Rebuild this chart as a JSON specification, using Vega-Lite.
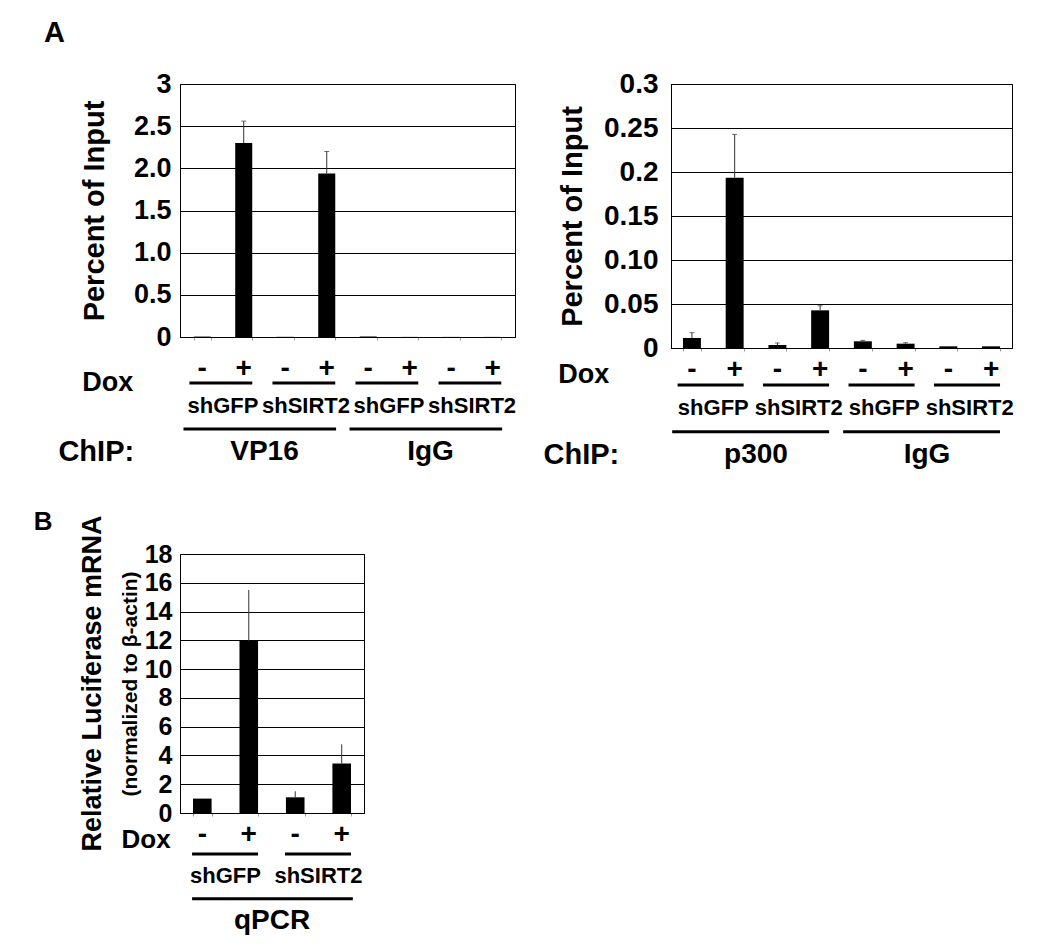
{
  "$schema": "https://vega.github.io/schema/vega-lite/v6.json",
  "background": "white",
  "padding": {"left": 33, "top": 18, "right": 5, "bottom": 5},
  "config": {
    "font": "Liberation Sans",
    "view": {"stroke": "black", "strokeWidth": 1},
    "title": {"font": "Liberation Sans", "fontWeight": "bold", "color": "black"},
    "axis": {"labelFont": "Liberation Sans", "titleFont": "Liberation Sans", "labelColor": "black", "titleColor": "black", "labelFontWeight": "bold", "titleFontWeight": "bold", "labelOverlap": false}
  },
  "datasets": {
    "vp16": [
      {"cat": "VP16 shGFP -", "val": 0.005, "hi": null},
      {"cat": "VP16 shGFP +", "val": 2.3, "hi": 2.56},
      {"cat": "VP16 shSIRT2 -", "val": 0.002, "hi": null},
      {"cat": "VP16 shSIRT2 +", "val": 1.94, "hi": 2.2},
      {"cat": "IgG shGFP -", "val": 0.006, "hi": null},
      {"cat": "IgG shGFP +", "val": 0.001, "hi": null},
      {"cat": "IgG shSIRT2 -", "val": 0.001, "hi": null},
      {"cat": "IgG shSIRT2 +", "val": 0.001, "hi": null}
    ],
    "annoL": [
      {"type": "sign", "cat": "VP16 shGFP -", "label": "-", "tier": "line1"},
      {"type": "sign", "cat": "VP16 shGFP +", "label": "+", "tier": "line1"},
      {"type": "sign", "cat": "VP16 shSIRT2 -", "label": "-", "tier": "line1"},
      {"type": "sign", "cat": "VP16 shSIRT2 +", "label": "+", "tier": "line1"},
      {"type": "sign", "cat": "IgG shGFP -", "label": "-", "tier": "line1"},
      {"type": "sign", "cat": "IgG shGFP +", "label": "+", "tier": "line1"},
      {"type": "sign", "cat": "IgG shSIRT2 -", "label": "-", "tier": "line1"},
      {"type": "sign", "cat": "IgG shSIRT2 +", "label": "+", "tier": "line1"},
      {"type": "dox", "cat": "VP16 shGFP -", "label": "Dox", "tier": "line1"},
      {"type": "chipside", "cat": "VP16 shGFP -", "label": "ChIP:", "tier": "chip"},
      {"type": "pair", "from": "VP16 shGFP -", "to": "VP16 shGFP +", "tier": "line1"},
      {"type": "pair", "from": "VP16 shSIRT2 -", "to": "VP16 shSIRT2 +", "tier": "line1"},
      {"type": "pair", "from": "IgG shGFP -", "to": "IgG shGFP +", "tier": "line1"},
      {"type": "pair", "from": "IgG shSIRT2 -", "to": "IgG shSIRT2 +", "tier": "line1"},
      {"type": "group", "from": "VP16 shGFP -", "to": "VP16 shSIRT2 +", "tier": "line2"},
      {"type": "group", "from": "IgG shGFP -", "to": "IgG shSIRT2 +", "tier": "line2"},
      {"type": "sh", "cat": "VP16 shGFP -", "label": "shGFP", "tier": "sh"},
      {"type": "sh", "cat": "VP16 shSIRT2 -", "label": "shSIRT2", "tier": "sh"},
      {"type": "sh", "cat": "IgG shGFP -", "label": "shGFP", "tier": "sh"},
      {"type": "sh", "cat": "IgG shSIRT2 -", "label": "shSIRT2", "tier": "sh"},
      {"type": "chip", "cat": "VP16 shGFP +", "label": "VP16", "tier": "chip"},
      {"type": "chip", "cat": "IgG shGFP +", "label": "IgG", "tier": "chip"}
    ],
    "p300": [
      {"cat": "p300 shGFP -", "val": 0.0114, "hi": 0.0174},
      {"cat": "p300 shGFP +", "val": 0.1935, "hi": 0.2428},
      {"cat": "p300 shSIRT2 -", "val": 0.0034, "hi": 0.0057},
      {"cat": "p300 shSIRT2 +", "val": 0.0428, "hi": 0.048},
      {"cat": "IgG shGFP -", "val": 0.0076, "hi": 0.0087},
      {"cat": "IgG shGFP +", "val": 0.0049, "hi": 0.006},
      {"cat": "IgG shSIRT2 -", "val": 0.0019, "hi": null},
      {"cat": "IgG shSIRT2 +", "val": 0.0019, "hi": null}
    ],
    "annoR": [
      {"type": "sign", "cat": "p300 shGFP -", "label": "-", "tier": "line1"},
      {"type": "sign", "cat": "p300 shGFP +", "label": "+", "tier": "line1"},
      {"type": "sign", "cat": "p300 shSIRT2 -", "label": "-", "tier": "line1"},
      {"type": "sign", "cat": "p300 shSIRT2 +", "label": "+", "tier": "line1"},
      {"type": "sign", "cat": "IgG shGFP -", "label": "-", "tier": "line1"},
      {"type": "sign", "cat": "IgG shGFP +", "label": "+", "tier": "line1"},
      {"type": "sign", "cat": "IgG shSIRT2 -", "label": "-", "tier": "line1"},
      {"type": "sign", "cat": "IgG shSIRT2 +", "label": "+", "tier": "line1"},
      {"type": "dox", "cat": "p300 shGFP -", "label": "Dox", "tier": "line1"},
      {"type": "chipside", "cat": "p300 shGFP -", "label": "ChIP:", "tier": "chip"},
      {"type": "pair", "from": "p300 shGFP -", "to": "p300 shGFP +", "tier": "line1"},
      {"type": "pair", "from": "p300 shSIRT2 -", "to": "p300 shSIRT2 +", "tier": "line1"},
      {"type": "pair", "from": "IgG shGFP -", "to": "IgG shGFP +", "tier": "line1"},
      {"type": "pair", "from": "IgG shSIRT2 -", "to": "IgG shSIRT2 +", "tier": "line1"},
      {"type": "group", "from": "p300 shGFP -", "to": "p300 shSIRT2 +", "tier": "line2"},
      {"type": "group", "from": "IgG shGFP -", "to": "IgG shSIRT2 +", "tier": "line2"},
      {"type": "sh", "cat": "p300 shGFP -", "label": "shGFP", "tier": "sh"},
      {"type": "sh", "cat": "p300 shSIRT2 -", "label": "shSIRT2", "tier": "sh"},
      {"type": "sh", "cat": "IgG shGFP -", "label": "shGFP", "tier": "sh"},
      {"type": "sh", "cat": "IgG shSIRT2 -", "label": "shSIRT2", "tier": "sh"},
      {"type": "chip", "cat": "p300 shGFP +", "label": "p300", "tier": "chip"},
      {"type": "chip", "cat": "IgG shGFP +", "label": "IgG", "tier": "chip"}
    ],
    "qpcr": [
      {"cat": "shGFP -", "val": 1.0, "hi": null},
      {"cat": "shGFP +", "val": 11.96, "hi": 15.5},
      {"cat": "shSIRT2 -", "val": 1.09, "hi": 1.51},
      {"cat": "shSIRT2 +", "val": 3.44, "hi": 4.77}
    ],
    "annoB": [
      {"type": "sign", "cat": "shGFP -", "label": "-", "tier": "line1"},
      {"type": "sign", "cat": "shGFP +", "label": "+", "tier": "line1"},
      {"type": "sign", "cat": "shSIRT2 -", "label": "-", "tier": "line1"},
      {"type": "sign", "cat": "shSIRT2 +", "label": "+", "tier": "line1"},
      {"type": "dox", "cat": "shGFP -", "label": "Dox", "tier": "line1"},
      {"type": "pair", "from": "shGFP -", "to": "shGFP +", "tier": "line1"},
      {"type": "pair", "from": "shSIRT2 -", "to": "shSIRT2 +", "tier": "line1"},
      {"type": "group", "from": "shGFP -", "to": "shSIRT2 +", "tier": "line2"},
      {"type": "sh", "cat": "shGFP -", "label": "shGFP", "tier": "sh"},
      {"type": "sh", "cat": "shSIRT2 -", "label": "shSIRT2", "tier": "sh"},
      {"type": "chip", "cat": "shGFP +", "label": "qPCR", "tier": "chip"}
    ]
  },
  "vconcat": [
    {
      "title": {"text": "A", "anchor": "start", "fontSize": 29, "offset": 22, "dx": -14},
      "spacing": 26,
      "hconcat": [
        {
          "width": 335,
          "height": 253,
          "resolve": {"scale": {"y": "independent"}},
          "layer": [
            {
              "data": {"name": "vp16"},
              "encoding": {
                "x": {"field": "cat", "type": "nominal", "sort": null,
                  "scale": {"domain": ["VP16 shGFP -", "VP16 shGFP +", "VP16 shSIRT2 -", "VP16 shSIRT2 +", "IgG shGFP -", "IgG shGFP +", "IgG shSIRT2 -", "IgG shSIRT2 +"], "paddingInner": 0.59, "paddingOuter": 0.33},
                  "axis": {"labels": false, "title": null, "domain": true, "domainColor": "black", "ticks": true, "tickBand": "extent", "tickColor": "#999", "tickSize": 3, "grid": false}},
                "y": {"field": "val", "type": "quantitative",
                  "scale": {"domain": [0, 3], "nice": false},
                  "axis": {"values": [0, 0.5, 1, 1.5, 2, 2.5, 3], "labelExpr": "datum.value == 0 ? '0' : datum.value == 3 ? '3' : format(datum.value, '.1f')", "grid": true, "gridColor": "black", "gridWidth": 1, "domain": true, "domainColor": "black", "ticks": false, "labelPadding": 9, "labelFontSize": 27, "title": "Percent of Input", "titleFontSize": 29, "titlePadding": 24}}
              },
              "layer": [
                {"mark": {"type": "bar", "color": "black"}},
                {
                  "transform": [{"filter": "isValid(datum.hi)"}],
                  "mark": {"type": "rule", "color": "#333", "strokeWidth": 1},
                  "encoding": {"y2": {"field": "hi"}}
                },
                {
                  "transform": [{"filter": "isValid(datum.hi)"}],
                  "mark": {"type": "tick", "color": "#333", "thickness": 1, "size": 5},
                  "encoding": {"y": {"field": "hi", "type": "quantitative"}}
                }
              ]
            },
            {
              "data": {"name": "annoL"},
              "layer": [
                {
                  "transform": [{"filter": "datum.type == 'sign'"}],
                  "mark": {"type": "text", "font": "Liberation Sans", "fontWeight": "bold", "fontSize": 28, "baseline": "middle", "dy": -14, "color": "black"},
                  "encoding": {"x": {"field": "cat", "type": "nominal"}, "y": {"field": "tier", "type": "ordinal", "scale": {"type": "point", "domain": ["line1", "sh", "line2", "chip"], "range": [299, 368], "padding": 0}, "axis": null}, "text": {"field": "label"}}
                },
                {
                  "transform": [{"filter": "datum.type == 'dox'"}],
                  "mark": {"type": "text", "font": "Liberation Sans", "fontWeight": "bold", "fontSize": 27, "baseline": "middle", "align": "right", "dy": 0, "color": "black"},
                  "encoding": {"x": {"field": "cat", "type": "nominal", "bandPosition": -3.55}, "y": {"field": "tier", "type": "ordinal"}, "text": {"field": "label"}}
                },
                {
                  "transform": [{"filter": "datum.type == 'chipside'"}],
                  "mark": {"type": "text", "font": "Liberation Sans", "fontWeight": "bold", "fontSize": 29, "baseline": "middle", "align": "right", "color": "black"},
                  "encoding": {"x": {"field": "cat", "type": "nominal", "bandPosition": -3.5}, "y": {"field": "tier", "type": "ordinal"}, "text": {"field": "label"}}
                },
                {
                  "transform": [{"filter": "datum.type == 'pair'"}],
                  "mark": {"type": "rule", "color": "black", "strokeWidth": 3},
                  "encoding": {"x": {"field": "from", "type": "nominal", "bandPosition": -0.25}, "x2": {"field": "to", "bandPosition": 1.0}, "y": {"field": "tier", "type": "ordinal"}}
                },
                {
                  "transform": [{"filter": "datum.type == 'group'"}],
                  "mark": {"type": "rule", "color": "black", "strokeWidth": 3},
                  "encoding": {"x": {"field": "from", "type": "nominal", "bandPosition": -0.6}, "x2": {"field": "to", "bandPosition": 1.05}, "y": {"field": "tier", "type": "ordinal"}}
                },
                {
                  "transform": [{"filter": "datum.type == 'sh'"}],
                  "mark": {"type": "text", "font": "Liberation Sans", "fontWeight": "bold", "fontSize": 22, "baseline": "middle", "align": "center", "color": "black"},
                  "encoding": {"x": {"field": "cat", "type": "nominal", "bandPosition": 1.72}, "y": {"field": "tier", "type": "ordinal"}, "text": {"field": "label"}}
                },
                {
                  "transform": [{"filter": "datum.type == 'chip'"}],
                  "mark": {"type": "text", "font": "Liberation Sans", "fontWeight": "bold", "fontSize": 28, "baseline": "middle", "align": "center", "color": "black"},
                  "encoding": {"x": {"field": "cat", "type": "nominal", "bandPosition": 1.72}, "y": {"field": "tier", "type": "ordinal"}, "text": {"field": "label"}}
                }
              ]
            }
          ]
        },
        {
          "width": 341,
          "height": 264,
          "resolve": {"scale": {"y": "independent"}},
          "layer": [
            {
              "data": {"name": "p300"},
              "encoding": {
                "x": {"field": "cat", "type": "nominal", "sort": null,
                  "scale": {"domain": ["p300 shGFP -", "p300 shGFP +", "p300 shSIRT2 -", "p300 shSIRT2 +", "IgG shGFP -", "IgG shGFP +", "IgG shSIRT2 -", "IgG shSIRT2 +"], "paddingInner": 0.58, "paddingOuter": 0.28},
                  "axis": {"labels": false, "title": null, "domain": true, "domainColor": "black", "ticks": true, "tickBand": "extent", "tickColor": "#999", "tickSize": 3, "grid": false}},
                "y": {"field": "val", "type": "quantitative",
                  "scale": {"domain": [0, 0.3], "nice": false},
                  "axis": {"values": [0, 0.05, 0.1, 0.15, 0.2, 0.25, 0.3], "labelExpr": "datum.value == 0 ? '0' : datum.value == 0.2 ? '0.2' : datum.value == 0.3 ? '0.3' : format(datum.value, '.2f')", "grid": true, "gridColor": "black", "gridWidth": 1, "domain": true, "domainColor": "black", "ticks": false, "labelPadding": 13, "labelFontSize": 28, "title": "Percent of Input", "titleFontSize": 29, "titlePadding": 16}}
              },
              "layer": [
                {"mark": {"type": "bar", "color": "black"}},
                {
                  "transform": [{"filter": "isValid(datum.hi)"}],
                  "mark": {"type": "rule", "color": "#333", "strokeWidth": 1},
                  "encoding": {"y2": {"field": "hi"}}
                },
                {
                  "transform": [{"filter": "isValid(datum.hi)"}],
                  "mark": {"type": "tick", "color": "#333", "thickness": 1, "size": 5},
                  "encoding": {"y": {"field": "hi", "type": "quantitative"}}
                }
              ]
            },
            {
              "data": {"name": "annoR"},
              "layer": [
                {
                  "transform": [{"filter": "datum.type == 'sign'"}],
                  "mark": {"type": "text", "font": "Liberation Sans", "fontWeight": "bold", "fontSize": 28, "baseline": "middle", "dy": -15, "color": "black"},
                  "encoding": {"x": {"field": "cat", "type": "nominal"}, "y": {"field": "tier", "type": "ordinal", "scale": {"type": "point", "domain": ["line1", "sh", "line2", "chip"], "range": [301, 371], "padding": 0}, "axis": null}, "text": {"field": "label"}}
                },
                {
                  "transform": [{"filter": "datum.type == 'dox'"}],
                  "mark": {"type": "text", "font": "Liberation Sans", "fontWeight": "bold", "fontSize": 27, "baseline": "middle", "align": "right", "dy": -10, "color": "black"},
                  "encoding": {"x": {"field": "cat", "type": "nominal", "bandPosition": -4.1}, "y": {"field": "tier", "type": "ordinal"}, "text": {"field": "label"}}
                },
                {
                  "transform": [{"filter": "datum.type == 'chipside'"}],
                  "mark": {"type": "text", "font": "Liberation Sans", "fontWeight": "bold", "fontSize": 29, "baseline": "middle", "align": "right", "color": "black"},
                  "encoding": {"x": {"field": "cat", "type": "nominal", "bandPosition": -3.55}, "y": {"field": "tier", "type": "ordinal"}, "text": {"field": "label"}}
                },
                {
                  "transform": [{"filter": "datum.type == 'pair'"}],
                  "mark": {"type": "rule", "color": "black", "strokeWidth": 3},
                  "encoding": {"x": {"field": "from", "type": "nominal", "bandPosition": -0.3}, "x2": {"field": "to", "bandPosition": 1.0}, "y": {"field": "tier", "type": "ordinal"}}
                },
                {
                  "transform": [{"filter": "datum.type == 'group'"}],
                  "mark": {"type": "rule", "color": "black", "strokeWidth": 3},
                  "encoding": {"x": {"field": "from", "type": "nominal", "bandPosition": -0.6}, "x2": {"field": "to", "bandPosition": 1.0}, "y": {"field": "tier", "type": "ordinal"}}
                },
                {
                  "transform": [{"filter": "datum.type == 'sh'"}],
                  "mark": {"type": "text", "font": "Liberation Sans", "fontWeight": "bold", "fontSize": 22, "baseline": "middle", "align": "center", "color": "black"},
                  "encoding": {"x": {"field": "cat", "type": "nominal", "bandPosition": 1.69}, "y": {"field": "tier", "type": "ordinal"}, "text": {"field": "label"}}
                },
                {
                  "transform": [{"filter": "datum.type == 'chip'"}],
                  "mark": {"type": "text", "font": "Liberation Sans", "fontWeight": "bold", "fontSize": 28, "baseline": "middle", "align": "center", "color": "black"},
                  "encoding": {"x": {"field": "cat", "type": "nominal", "bandPosition": 1.69}, "y": {"field": "tier", "type": "ordinal"}, "text": {"field": "label"}}
                }
              ]
            }
          ]
        }
      ]
    },
    {
      "title": {"text": "B", "anchor": "start", "fontSize": 26, "offset": -20, "dx": -45},
      "vconcat": [
        {
          "width": 184,
          "height": 259,
          "title": {"text": "Relative Luciferase mRNA", "orient": "left", "anchor": "middle", "frame": "group", "fontSize": 27, "offset": 12},
          "resolve": {"scale": {"y": "independent"}},
          "layer": [
            {
              "data": {"name": "qpcr"},
              "encoding": {
                "x": {"field": "cat", "type": "nominal", "sort": null,
                  "scale": {"domain": ["shGFP -", "shGFP +", "shSIRT2 -", "shSIRT2 +"], "paddingInner": 0.6, "paddingOuter": 0.28},
                  "axis": {"labels": false, "title": null, "domain": true, "domainColor": "black", "ticks": true, "tickBand": "extent", "tickColor": "#999", "tickSize": 3, "grid": false}},
                "y": {"field": "val", "type": "quantitative",
                  "scale": {"domain": [0, 18], "nice": false},
                  "axis": {"values": [0, 2, 4, 6, 8, 10, 12, 14, 16, 18], "tickCount": 10, "labelOverlap": false, "grid": true, "gridColor": "black", "gridWidth": 1, "domain": true, "domainColor": "black", "ticks": false, "labelPadding": 8, "labelFontSize": 25, "title": "(normalized to β-actin)", "titleFontSize": 21, "titlePadding": 4}}
              },
              "layer": [
                {"mark": {"type": "bar", "color": "black"}},
                {
                  "transform": [{"filter": "isValid(datum.hi)"}],
                  "mark": {"type": "rule", "color": "#333", "strokeWidth": 1},
                  "encoding": {"y2": {"field": "hi"}}
                }
              ]
            },
            {
              "data": {"name": "annoB"},
              "layer": [
                {
                  "transform": [{"filter": "datum.type == 'sign'"}],
                  "mark": {"type": "text", "font": "Liberation Sans", "fontWeight": "bold", "fontSize": 28, "baseline": "middle", "dy": -19, "color": "black"},
                  "encoding": {"x": {"field": "cat", "type": "nominal"}, "y": {"field": "tier", "type": "ordinal", "scale": {"type": "point", "domain": ["line1", "sh", "line2", "chip"], "range": [300, 367], "padding": 0}, "axis": null}, "text": {"field": "label"}}
                },
                {
                  "transform": [{"filter": "datum.type == 'dox'"}],
                  "mark": {"type": "text", "font": "Liberation Sans", "fontWeight": "bold", "fontSize": 26, "baseline": "middle", "align": "right", "dy": -14, "color": "black"},
                  "encoding": {"x": {"field": "cat", "type": "nominal", "bandPosition": -1.2}, "y": {"field": "tier", "type": "ordinal"}, "text": {"field": "label"}}
                },
                {
                  "transform": [{"filter": "datum.type == 'pair'"}],
                  "mark": {"type": "rule", "color": "black", "strokeWidth": 3},
                  "encoding": {"x": {"field": "from", "type": "nominal", "bandPosition": -0.05}, "x2": {"field": "to", "bandPosition": 1.0}, "y": {"field": "tier", "type": "ordinal"}}
                },
                {
                  "transform": [{"filter": "datum.type == 'group'"}],
                  "mark": {"type": "rule", "color": "black", "strokeWidth": 3},
                  "encoding": {"x": {"field": "from", "type": "nominal", "bandPosition": -0.05}, "x2": {"field": "to", "bandPosition": 1.1}, "y": {"field": "tier", "type": "ordinal"}}
                },
                {
                  "transform": [{"filter": "datum.type == 'sh'"}],
                  "mark": {"type": "text", "font": "Liberation Sans", "fontWeight": "bold", "fontSize": 22, "baseline": "middle", "align": "center", "color": "black"},
                  "encoding": {"x": {"field": "cat", "type": "nominal", "bandPosition": 1.75}, "y": {"field": "tier", "type": "ordinal"}, "text": {"field": "label"}}
                },
                {
                  "transform": [{"filter": "datum.type == 'chip'"}],
                  "mark": {"type": "text", "font": "Liberation Sans", "fontWeight": "bold", "fontSize": 28, "baseline": "middle", "align": "center", "color": "black"},
                  "encoding": {"x": {"field": "cat", "type": "nominal", "bandPosition": 1.75}, "y": {"field": "tier", "type": "ordinal"}, "text": {"field": "label"}}
                }
              ]
            }
          ]
        }
      ]
    }
  ],
  "spacing": 37,
  "resolve": {"scale": {"x": "independent", "y": "independent"}}
}
